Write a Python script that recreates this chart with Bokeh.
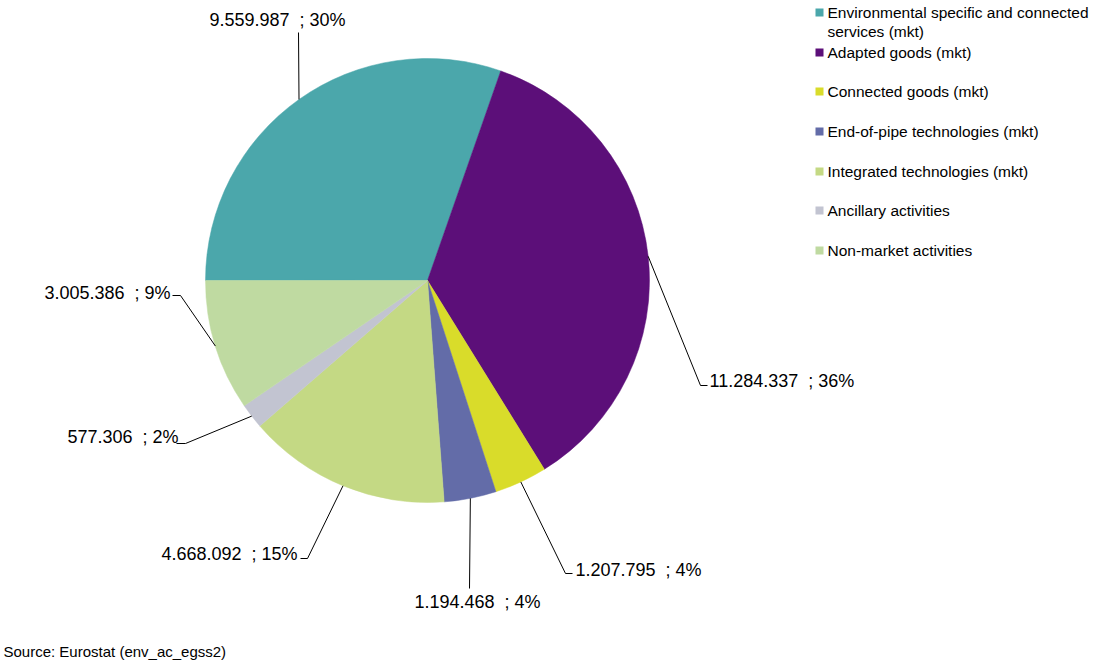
import numpy as np
from bokeh.plotting import figure
from bokeh.models import Range1d, ColumnDataSource
from bokeh.core.properties import value
from bokeh.embed import file_html
from bokeh.resources import INLINE

# ---------------- data ----------------
categories = [
    "Environmental specific and connected services (mkt)",
    "Adapted goods (mkt)",
    "Connected goods (mkt)",
    "End-of-pipe technologies (mkt)",
    "Integrated technologies (mkt)",
    "Ancillary activities",
    "Non-market activities",
]
values = [9559987, 11284337, 1207795, 1194468, 4668092, 577306, 3005386]
percent_labels = [30, 36, 4, 4, 15, 2, 9]
colors = ["#4BA7AB", "#5C0F79", "#D9DC2A", "#636CA8", "#C4D984", "#C2C4D1", "#BFDAA1"]
source_note = "Source: Eurostat (env_ac_egss2)"

# ---------------- layout (screen pixels) ----------------
W, H = 1099, 665
def Y(sy):
    return H - sy

CX, CY, R = 427, 280, 222
FIRST_ANGLE = 270.0  # degrees clockwise from 12 o'clock

# label elbows (screen), label text anchor (screen), alignment
elbows = [(298, 32), (700, 385), (565, 573), (469, 588), (307, 558), (185, 443), (180, 295)]
ends = [None, (707, 385), (572, 573), None, (300, 558), (176, 443), (172, 295)]
text_pos = [(209, 19), (709, 380), (575, 569), (414, 601), (297, 553), (178, 436), (170, 292)]
text_align = ["left", "left", "left", "left", "right", "right", "right"]

FONT = value("Liberation Sans")
NB = "\u00a0"

p = figure(width=W, height=H, x_range=Range1d(0, W), y_range=Range1d(0, H),
           output_backend="svg", toolbar_location=None,
           x_axis_location=None, y_axis_location=None, min_border=0)
p.grid.visible = False
p.outline_line_color = None
p.background_fill_color = "white"
p.border_fill_color = "white"

vals = np.array(values, dtype=float)
total = vals.sum()
frac = vals / total
cum = np.concatenate([[0], np.cumsum(frac)])
theta_s = FIRST_ANGLE + cum[:-1] * 360.0
theta_e = FIRST_ANGLE + cum[1:] * 360.0
theta_m = (theta_s + theta_e) / 2.0

src = ColumnDataSource(dict(
    start=np.radians(90.0 - theta_s),
    end=np.radians(90.0 - theta_e),
    color=colors,
))
p.wedge(x=CX, y=Y(CY), radius=R, start_angle="start", end_angle="end",
        direction="clock", fill_color="color", line_color="color", line_width=0.5,
        source=src)

# leader lines
xs, ys = [], []
for i in range(len(values)):
    t = np.radians(theta_m[i])
    sx = CX + R * np.sin(t)
    sy = CY - R * np.cos(t)
    lx = [sx, elbows[i][0]]
    ly = [Y(sy), Y(elbows[i][1])]
    if ends[i] is not None:
        lx.append(ends[i][0])
        ly.append(Y(ends[i][1]))
    xs.append(lx)
    ys.append(ly)
p.multi_line(xs=xs, ys=ys, line_color="#000000", line_width=1)

# data labels
def fmt(v):
    return f"{v:,}".replace(",", ".")

for i in range(len(values)):
    p.text(x=[text_pos[i][0]], y=[Y(text_pos[i][1])],
           text=[f"{fmt(values[i])}{NB}{NB};{NB}{percent_labels[i]}%"],
           text_font=FONT, text_font_size="18px", text_color="#000000",
           text_align=text_align[i], text_baseline="middle")

# legend
leg_y = [12, 52, 91, 131, 171, 210, 250]
for i, cat in enumerate(categories):
    p.rect(x=[819], y=[Y(leg_y[i])], width=8, height=8, fill_color=colors[i], line_color=None)
    if i == 0:
        label = "Environmental specific and connected\nservices (mkt)"
        p.text(x=[827], y=[Y(leg_y[i] - 9)], text=[label], text_font=FONT,
               text_font_size="15.5px", text_color="#000000", text_align="left",
               text_baseline="top", text_line_height=1.15)
    else:
        p.text(x=[827], y=[Y(leg_y[i])], text=[cat], text_font=FONT,
               text_font_size="15.5px", text_color="#000000", text_align="left",
               text_baseline="middle")

# source
p.text(x=[3], y=[Y(651)], text=[source_note], text_font=FONT, text_font_size="15px",
       text_color="#000000", text_align="left", text_baseline="middle")

open("out.html", "w").write(file_html(p, INLINE))
